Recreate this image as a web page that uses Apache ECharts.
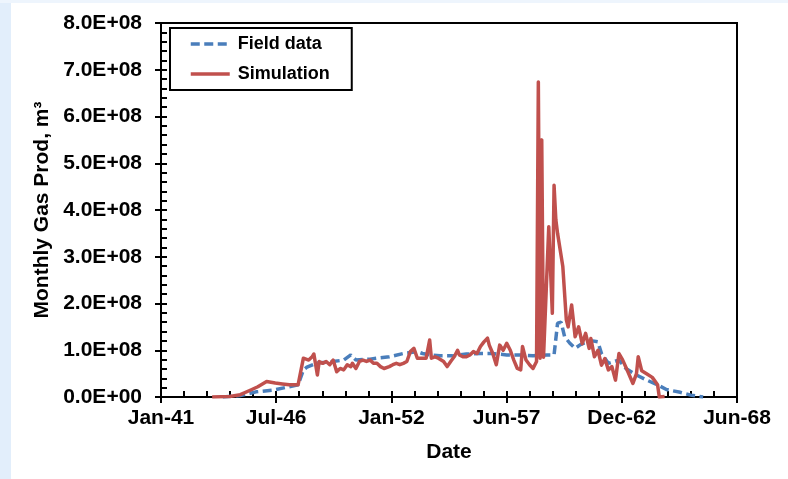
<!DOCTYPE html>
<html>
<head>
<meta charset="utf-8">
<script src="https://cdn.jsdelivr.net/npm/echarts@6/dist/echarts.min.js"></script>
<style>
  html, body { margin: 0; padding: 0; width: 788px; height: 479px; overflow: hidden; background: #ffffff; }
  #edge-left { position: absolute; left: 0; top: 0; width: 11px; height: 479px; background: #e2eefb; }
  #edge-top { position: absolute; left: 0; top: 0; width: 788px; height: 3px; background: #eef5fd; }
  #chart { position: absolute; left: 0; top: 0; width: 788px; height: 479px; }
</style>
</head>
<body>
<div id="edge-left"></div>
<div id="edge-top"></div>
<div id="chart"></div>
<script>
// Monthly gas production: field history vs. simulation (m3 per month)
const fieldDates = [
  '1944-01','1944-11','1945-08','1946-06','1947-03','1947-08','1947-11','1948-01','1948-07','1949-02',
  '1949-10','1950-02','1950-05','1951-01','1951-05','1951-12','1952-08','1953-04','1953-07','1953-11',
  '1954-05','1954-12','1955-08','1956-04','1956-11','1957-07','1958-03','1958-10','1959-06','1959-10',
  '1959-12','1960-02','1960-04','1960-07','1960-10','1961-01','1961-05','1961-08','1961-11','1962-01',
  '1962-05','1962-11','1963-03','1963-09','1964-03','1964-09','1965-02','1965-10','1966-04','1966-11'
];
const fieldValues = [
  0, 3e6, 1.1e7, 1.5e7, 2.2e7, 2.6e7, 5.8e7, 6.4e7, 7.3e7, 7.5e7,
  7.9e7, 9.0e7, 7.9e7, 8.1e7, 8.3e7, 8.6e7, 9.3e7, 9.7e7, 9.3e7, 9.0e7,
  8.8e7, 8.8e7, 9.2e7, 9.3e7, 9.3e7, 9.0e7, 9.0e7, 8.8e7, 9.0e7, 9.0e7,
  1.58e8, 1.6e8, 1.29e8, 1.15e8, 1.04e8, 1.12e8, 1.18e8, 1.2e8, 1.18e8, 9.3e7,
  7.2e7, 7.9e7, 6.1e7, 4.7e7, 3.6e7, 2.6e7, 1.6e7, 1.0e7, 4e6, 0
];

const simDates = [
  '1943-07','1944-05','1944-11','1945-05','1945-09','1946-02','1946-07','1946-11','1947-03','1947-08',
  '1947-09','1947-11','1947-12','1948-02','1948-04','1948-05','1948-07','1948-08','1948-10','1948-12',
  '1949-02','1949-04','1949-06','1949-08','1949-10','1949-12','1950-02','1950-03','1950-05','1950-07',
  '1950-09','1950-11','1951-01','1951-03','1951-05','1951-07','1951-09','1951-10','1951-12','1952-02',
  '1952-04','1952-06','1952-08','1952-10','1952-12','1953-02','1953-03','1953-04','1953-06','1953-07',
  '1953-09','1953-11','1953-12','1954-02','1954-04','1954-07','1954-09','1954-11','1955-01','1955-03',
  '1955-04','1955-06','1955-08','1955-10','1955-12','1956-02','1956-04','1956-06','1956-08','1956-09',
  '1956-11','1957-01','1957-03','1957-05','1957-07','1957-09','1957-11','1958-01','1958-03','1958-04',
  '1958-05','1958-06','1958-08','1958-10','1958-12','1959-01','1959-02','1959-03','1959-04','1959-05',
  '1959-07','1959-09','1959-10','1959-11','1959-12','1960-01','1960-03','1960-05','1960-06','1960-08',
  '1960-10','1960-12','1961-02','1961-04','1961-06','1961-07','1961-09','1961-11','1962-01','1962-03',
  '1962-05','1962-07','1962-09','1962-11','1963-01','1963-02','1963-04','1963-07','1963-09','1963-10',
  '1963-12','1964-03','1964-06','1964-09','1964-10','1965-01'
];
const simValues = [
  0, 1e6, 5e6, 1.5e7, 2.2e7, 3.3e7, 3.0e7, 2.8e7, 2.6e7, 2.6e7,
  2.9e7, 8.3e7, 8.6e7, 7.9e7, 8.6e7, 9.2e7, 4.7e7, 7.6e7, 7.2e7, 7.6e7,
  6.9e7, 7.9e7, 5.4e7, 6.1e7, 5.8e7, 6.9e7, 6.5e7, 7.2e7, 6.1e7, 7.6e7,
  7.9e7, 7.6e7, 7.9e7, 7.2e7, 7.2e7, 6.5e7, 6.1e7, 6.5e7, 6.5e7, 6.9e7,
  7.2e7, 6.9e7, 7.2e7, 7.6e7, 9.7e7, 1.04e8, 1.07e8, 8.3e7, 8.3e7, 8.6e7,
  8.3e7, 1.22e8, 8.3e7, 8.6e7, 8.3e7, 7.6e7, 6.5e7, 7.6e7, 8.6e7, 1.0e8,
  9.0e7, 8.6e7, 8.6e7, 9.0e7, 9.7e7, 9.3e7, 1.08e8, 1.18e8, 1.26e8, 1.11e8,
  9.3e7, 6.9e7, 1.11e8, 1.0e8, 1.15e8, 1.0e8, 7.9e7, 6.1e7, 5.8e7, 1.08e8,
  1.11e8, 7.9e7, 6.9e7, 6.1e7, 7.6e7, 6.74e8, 8.3e7, 5.5e8, 8.5e7, 8.8e7,
  3.64e8, 1.79e8, 4.53e8, 3.79e8, 3.5e8, 3.47e8, 2.79e8, 1.65e8, 1.5e8, 1.97e8,
  1.29e8, 1.5e8, 1.14e8, 1.36e8, 1.04e8, 1.25e8, 8.6e7, 1.0e8, 6.8e7, 8.2e7,
  5.8e7, 6.5e7, 3.6e7, 9.3e7, 8.0e7, 7.9e7, 5.5e7, 2.9e7, 5.0e7, 8.6e7,
  5.6e7, 4.9e7, 4.2e7, 2.6e7, 0, 1e6
];

// Axis tick labels (date axis runs in 2000-day steps from serial day 15000)
const xTickLabels = ['Jan-41', 'Jul-46', 'Jan-52', 'Jun-57', 'Dec-62', 'Jun-68'];
const yTickLabels = ['0.0E+00', '1.0E+08', '2.0E+08', '3.0E+08', '4.0E+08',
                     '5.0E+08', '6.0E+08', '7.0E+08', '8.0E+08'];

// Day serial (spreadsheet style, day 0 = 1899-12-30); the x axis counts days from serial 15000
const AXIS_ORIGIN = 15000;
function dayOffset(ym) {
  const [y, m] = ym.split('-').map(Number);
  const serial = (Date.UTC(y, m - 1, 1) - Date.UTC(1899, 11, 30)) / 86400000;
  return serial - AXIS_ORIGIN;
}
function pairs(dates, values) {
  return dates.map((d, i) => [dayOffset(d), values[i]]);
}

const FONT = 'Liberation Sans, Arial, sans-serif';
const chart = echarts.init(document.getElementById('chart'), null, { renderer: 'canvas' });

chart.setOption({
  animation: false,
  backgroundColor: 'transparent',
  grid: {
    left: 161, right: 51, top: 23, bottom: 82,
    show: true, borderColor: '#000', borderWidth: 2, backgroundColor: 'transparent'
  },
  legend: {
    data: ['Field data', 'Simulation'],
    orient: 'vertical',
    left: 170, top: 28,
    padding: [7, 22, 7, 19],
    itemWidth: 39, itemHeight: 18, itemGap: 12,
    borderColor: '#000', borderWidth: 2, backgroundColor: '#fff',
    itemStyle: { opacity: 0 },
    lineStyle: { width: 3.5 },
    textStyle: { fontFamily: FONT, fontWeight: 'bold', fontSize: 18, color: '#000', padding: [0, 0, 0, 3] }
  },
  xAxis: [
    {
      type: 'value', min: 0, max: 10000, interval: 2000,
      name: 'Date', nameLocation: 'middle', nameGap: 45,
      nameTextStyle: { fontFamily: FONT, fontWeight: 'bold', fontSize: 21, color: '#000' },
      axisLine: { show: true, lineStyle: { color: '#000', width: 2 } },
      axisTick: { show: true, inside: false, length: 6, lineStyle: { color: '#000', width: 2 } },
      axisLabel: {
        margin: 11, fontFamily: FONT, fontWeight: 'bold', fontSize: 21, color: '#000',
        formatter: v => xTickLabels[Math.round(v / 2000)]
      },
      splitLine: { show: false }
    },
    {
      type: 'value', min: 0, max: 10000, interval: 400, position: 'bottom',
      axisLine: { show: false },
      axisTick: { show: true, inside: true, length: 6, lineStyle: { color: '#000', width: 2 } },
      axisLabel: { show: false },
      splitLine: { show: false }
    }
  ],
  yAxis: [
    {
      type: 'value', min: 0, max: 8e8, interval: 1e8,
      name: 'Monthly Gas Prod, m³', nameLocation: 'middle', nameGap: 106, nameRotate: 90,
      nameTextStyle: { fontFamily: FONT, fontWeight: 'bold', fontSize: 21, color: '#000' },
      axisLine: { show: true, lineStyle: { color: '#000', width: 2 } },
      axisTick: { show: true, inside: false, length: 6, lineStyle: { color: '#000', width: 2 } },
      axisLabel: {
        margin: 19, fontFamily: FONT, fontWeight: 'bold', fontSize: 21, color: '#000',
        formatter: v => yTickLabels[Math.round(v / 1e8)]
      },
      splitLine: { show: false }
    },
    {
      type: 'value', min: 0, max: 8e8, interval: 2e7, position: 'left',
      axisLine: { show: false },
      axisTick: { show: true, inside: true, length: 6, lineStyle: { color: '#000', width: 2 } },
      axisLabel: { show: false },
      splitLine: { show: false }
    }
  ],
  series: [
    {
      name: 'Field data', type: 'line', xAxisIndex: 0, yAxisIndex: 0,
      data: pairs(fieldDates, fieldValues),
      symbol: 'none', showSymbol: false, z: 2,
      lineStyle: { color: '#4a7ebb', width: 3.5, type: [9, 4.5] },
      itemStyle: { color: '#4a7ebb' }
    },
    {
      name: 'Simulation', type: 'line', xAxisIndex: 0, yAxisIndex: 0,
      data: pairs(simDates, simValues),
      symbol: 'none', showSymbol: false, z: 3,
      lineStyle: { color: '#c0504d', width: 3.5, join: 'round' },
      itemStyle: { color: '#c0504d' }
    }
  ]
});
</script>
</body>
</html>
